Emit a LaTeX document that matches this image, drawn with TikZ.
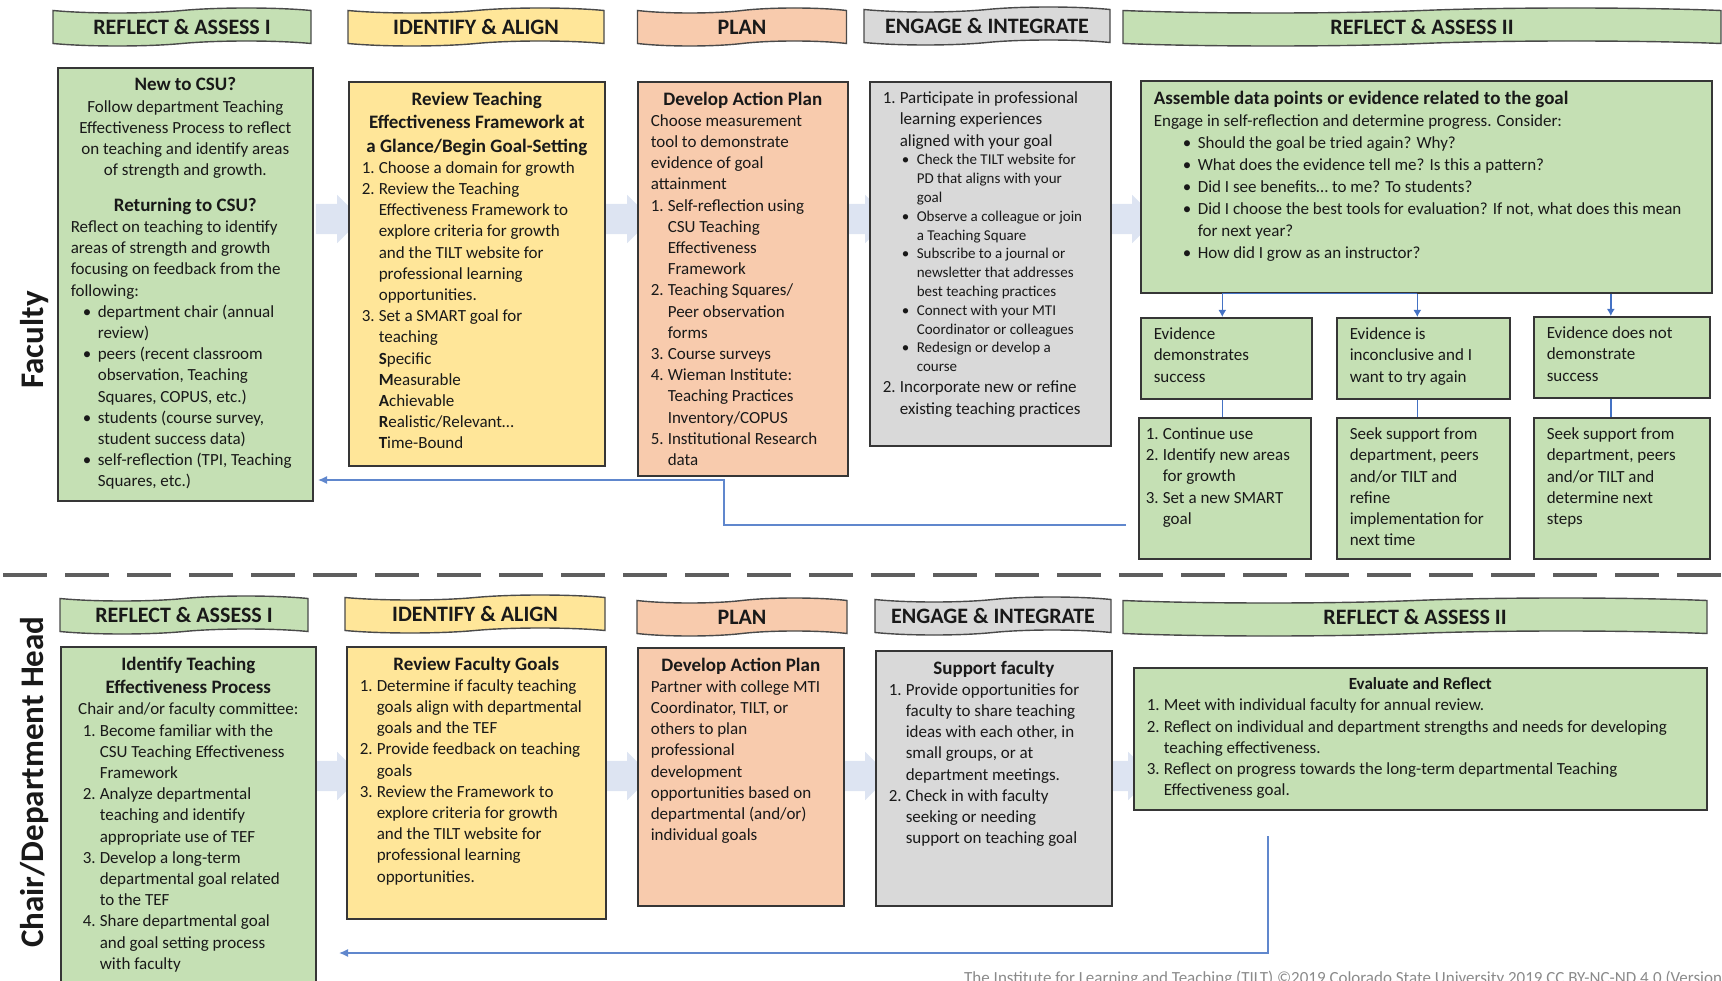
\documentclass[tikz,border=0pt]{standalone}
\usepackage{fontspec}
\setmainfont{Carlito}
\usetikzlibrary{shapes.symbols,shapes.arrows,arrows.meta}

\definecolor{sgreen}{HTML}{C5E0B4}
\definecolor{syellow}{HTML}{FFE699}
\definecolor{speach}{HTML}{F8CBAD}
\definecolor{sgray}{HTML}{D9D9D9}
\definecolor{edge}{HTML}{363636}
\definecolor{linkblue}{HTML}{4472C4}
\definecolor{chevfill}{HTML}{DDE4F2}
\definecolor{dashgray}{HTML}{5E5E5E}
\definecolor{footgray}{HTML}{8A8A8A}

% text block of a card: width, height, body
\newcommand{\cardtext}[3]{\parbox[c][#2][t]{#1}{\raggedright\parindent=0pt\parskip=0pt\fontsize{17}{21.2}\selectfont #3}}
\newcommand{\head}[1]{{\centering\fontsize{19}{23.5}\selectfont\bfseries #1\par}}
\newcommand{\nitem}[3][0pt]{\par\hangindent=\dimexpr#1+17pt\relax\hangafter=1\hspace*{#1}\makebox[17pt][l]{#2}#3\par}
\newcommand{\bitem}[2][12pt]{\par\hangindent=\dimexpr#1+15pt\relax\hangafter=1\hspace*{#1}\makebox[15pt][l]{\textbullet}#2\par}

\tikzset{
  card/.style={draw=edge, line width=1.6pt, anchor=north west, inner xsep=13pt, inner ysep=10pt, text=black!90},
  phase/.style={tape, draw=edge!90, line width=1.4pt, tape bend height=5pt, minimum height=38pt, inner sep=0pt,
    font=\fontsize{22}{22}\selectfont\bfseries, text=black!90},
  chev/.style={single arrow, fill=chevfill, draw=none, minimum height=38pt, minimum width=48pt,
    single arrow head extend=9pt, inner sep=15pt},
  link/.style={draw=linkblue, line width=1.6pt},
  back/.style={draw=linkblue!85, line width=1.4pt, -{Latex[length=9pt,width=8pt]}},
  lane/.style={rotate=90, font=\fontsize{33}{33}\selectfont\bfseries, text=black!90},
}

\begin{document}
\begin{tikzpicture}[x=1pt, y=-1pt]
\useasboundingbox (0,0) rectangle (1722,981);
\clip (0,0) rectangle (1722,981);

% lanes
\node[lane] (faclabel) at (35,340) {Faculty};
\node[lane] (chairlabel) at (35,782) {Chair/Department Head};

% flow chevrons behind the cards
\foreach \cx/\cy [count=\i] in {331/219, 621/219, 859/219, 1126/219, 331/776, 621/776, 859/776, 1122/776}
  \node[chev] (chev\i) at (\cx,\cy) {};

% phase headers, faculty
\node[phase, fill=sgreen, minimum width=258pt] (fh1) at (182,27) {REFLECT \& ASSESS I};
\node[phase, fill=syellow, minimum width=256pt] (fh2) at (476,27) {IDENTIFY \& ALIGN};
\node[phase, fill=speach, minimum width=209pt] (fh3) at (742,27) {PLAN};
\node[phase, fill=sgray, minimum width=246pt] (fh4) at (987,26) {ENGAGE \& INTEGRATE};
\node[phase, fill=sgreen, minimum width=598pt] (fh5) at (1422,27) {REFLECT \& ASSESS II};

% faculty cards
\node[card, fill=sgreen] (fr1) at (57,67) {\cardtext{229pt}{413pt}{%
  \head{New to CSU?}
  {\centering Follow department Teaching\\ Effectiveness Process to reflect\\ on teaching and identify areas\\ of strength and growth.\par}
  \vspace{12pt}
  \head{Returning to CSU?}
  Reflect on teaching to identify\\ areas of strength and growth\\ focusing on feedback from the\\ following:
  \bitem{department chair (annual\newline review)}
  \bitem{peers (recent classroom\newline observation, Teaching\newline Squares, COPUS, etc.)}
  \bitem{students (course survey,\newline student success data)}
  \bitem{self-reflection (TPI, Teaching\newline Squares, etc.)}}};

\node[card, fill=syellow] (fr2) at (348,81) {\cardtext{230pt}{364pt}{%
  \head{Review Teaching\\ Effectiveness Framework at\\ a Glance/Begin Goal-Setting}
  \nitem{1.}{Choose a domain for growth}
  \nitem{2.}{Review the Teaching\newline Effectiveness Framework to\newline explore criteria for growth\newline and the TILT website for\newline professional learning\newline opportunities.}
  \nitem{3.}{Set a SMART goal for\newline teaching\newline \textbf{S}pecific\newline \textbf{M}easurable\newline \textbf{A}chievable\newline \textbf{R}ealistic/Relevant…\newline \textbf{T}ime-Bound}}};

\node[card, fill=speach] (fr3) at (637,81) {\cardtext{184pt}{374pt}{%
  \head{Develop Action Plan}
  Choose measurement\\ tool to demonstrate\\ evidence of goal\\ attainment
  \nitem{1.}{Self-reflection using\newline CSU Teaching\newline Effectiveness\newline Framework}
  \nitem{2.}{Teaching Squares/\newline Peer observation\newline forms}
  \nitem{3.}{Course surveys}
  \nitem{4.}{Wieman Institute:\newline Teaching Practices\newline Inventory/COPUS}
  \nitem{5.}{Institutional Research\newline data}}};

\node[card, fill=sgray] (fr4) at (869,81) {\cardtext{215pt}{344pt}{%
  \nitem{1.}{Participate in professional\newline learning experiences\newline aligned with your goal}
  {\fontsize{15}{18.8}\selectfont
  \bitem[19pt]{Check the TILT website for\newline PD that aligns with your\newline goal}
  \bitem[19pt]{Observe a colleague or join\newline a Teaching Square}
  \bitem[19pt]{Subscribe to a journal or\newline newsletter that addresses\newline best teaching practices}
  \bitem[19pt]{Connect with your MTI\newline Coordinator or colleagues}
  \bitem[19pt]{Redesign or develop a\newline course}}
  \nitem{2.}{Incorporate new or refine\newline existing teaching practices}}};

\node[card, fill=sgreen] (fr5) at (1140,80) {\cardtext{545pt}{192pt}{%
  \fontsize{17}{22}\selectfont
  {\fontsize{19}{23.5}\selectfont\bfseries Assemble data points or evidence related to the goal\par}
  Engage in self-reflection and determine progress. Consider:
  \bitem[29pt]{Should the goal be tried again? Why?}
  \bitem[29pt]{What does the evidence tell me? Is this a pattern?}
  \bitem[29pt]{Did I see benefits… to me? To students?}
  \bitem[29pt]{Did I choose the best tools for evaluation? If not, what does this mean\newline for next year?}
  \bitem[29pt]{How did I grow as an instructor?}}};

% outcome cards
\node[card, fill=sgreen] (e1) at (1140,317) {\cardtext{145pt}{61pt}{Evidence\\ demonstrates\\ success}};
\node[card, fill=sgreen] (e2) at (1336,317) {\cardtext{147pt}{61pt}{Evidence is\\ inconclusive and I\\ want to try again}};
\node[card, fill=sgreen] (e3) at (1533,316) {\cardtext{150pt}{61pt}{Evidence does not\\ demonstrate\\ success}};

\node[card, fill=sgreen] (b1) at (1138,417) {\cardtext{146pt}{121pt}{%
  \nitem[-6pt]{1.}{Continue use}
  \nitem[-6pt]{2.}{Identify new areas\newline for growth}
  \nitem[-6pt]{3.}{Set a new SMART\newline goal}}};
\node[card, fill=sgreen] (b2) at (1336,417) {\cardtext{147pt}{121pt}{Seek support from\\ department, peers\\ and/or TILT and\\ refine\\ implementation for\\ next time}};
\node[card, fill=sgreen] (b3) at (1533,417) {\cardtext{150pt}{121pt}{Seek support from\\ department, peers\\ and/or TILT and\\ determine next\\ steps}};

% outcome links
\draw[link] ([xshift=-4pt]fr5.south -| e1.north) -- ([xshift=-6pt]fr5.south -| e2.north);
\draw[link, -{Latex[length=7pt,width=8pt]}] ([xshift=-4pt]fr5.south -| e1.north) -- ([xshift=-4pt]e1.north);
\draw[link, -{Latex[length=7pt,width=8pt]}] ([xshift=-6pt]fr5.south -| e2.north) -- ([xshift=-6pt]e2.north);
\draw[link, -{Latex[length=7pt,width=8pt]}] ([xshift=-11pt]fr5.south -| e3.north) -- ([xshift=-11pt]e3.north);
\draw[link] ([xshift=-4pt]e1.south) -- ([xshift=-4pt]e1.south |- b1.north);
\draw[link] ([xshift=-6pt]e2.south) -- ([xshift=-6pt]e2.south |- b2.north);
\draw[link] ([xshift=-11pt]e3.south) -- ([xshift=-11pt]e3.south |- b3.north);

% faculty loop back
\coordinate (fbstart) at (1126,525);
\coordinate (fbturn) at (724,525);
\coordinate (fbend) at (318,480);
\draw[back] (fbstart) -- (fbturn) |- (fbend);

% lane separator
\coordinate (sepL) at (3,575);
\coordinate (sepR) at (1722,575);
\draw[dashgray, line width=4.5pt, dash pattern=on 44pt off 18pt] (sepL) -- (sepR);

% phase headers, chair
\node[phase, fill=sgreen, minimum width=248pt] (ch1) at (184,615) {REFLECT \& ASSESS I};
\node[phase, fill=syellow, minimum width=260pt] (ch2) at (475,614) {IDENTIFY \& ALIGN};
\node[phase, fill=speach, minimum width=210pt] (ch3) at (742,617) {PLAN};
\node[phase, fill=sgray, minimum width=236pt] (ch4) at (993,616) {ENGAGE \& INTEGRATE};
\node[phase, fill=sgreen, minimum width=584pt] (ch5) at (1415,617) {REFLECT \& ASSESS II};

% chair cards
\node[card, fill=sgreen] (cr1) at (60,646) {\cardtext{229pt}{322pt}{%
  \head{Identify Teaching\\ Effectiveness Process}
  {\centering Chair and/or faculty committee:\par}
  \nitem[9pt]{1.}{Become familiar with the\newline CSU Teaching Effectiveness\newline Framework}
  \nitem[9pt]{2.}{Analyze departmental\newline teaching and identify\newline appropriate use of TEF}
  \nitem[9pt]{3.}{Develop a long-term\newline departmental goal related\newline to the TEF}
  \nitem[9pt]{4.}{Share departmental goal\newline and goal setting process\newline with faculty}}};

\node[card, fill=syellow] (cr2) at (346,646) {\cardtext{233pt}{252pt}{%
  \head{Review Faculty Goals}
  \nitem{1.}{Determine if faculty teaching\newline goals align with departmental\newline goals and the TEF}
  \nitem{2.}{Provide feedback on teaching\newline goals}
  \nitem{3.}{Review the Framework to\newline explore criteria for growth\newline and the TILT website for\newline professional learning\newline opportunities.}}};

\node[card, fill=speach] (cr3) at (637,647) {\cardtext{180pt}{238pt}{%
  \head{Develop Action Plan}
  Partner with college MTI\\ Coordinator, TILT, or\\ others to plan\\ professional\\ development\\ opportunities based on\\ departmental (and/or)\\ individual goals}};

\node[card, fill=sgray] (cr4) at (875,650) {\cardtext{210pt}{235pt}{%
  \head{Support faculty}
  \nitem{1.}{Provide opportunities for\newline faculty to share teaching\newline ideas with each other, in\newline small groups, or at\newline department meetings.}
  \nitem{2.}{Check in with faculty\newline seeking or needing\newline support on teaching goal}}};

\node[card, fill=sgreen] (cr5) at (1133,667) {\cardtext{547pt}{122pt}{%
  {\centering\bfseries Evaluate and Reflect\par}
  \nitem{1.}{Meet with individual faculty for annual review.}
  \nitem{2.}{Reflect on individual and department strengths and needs for developing\newline teaching effectiveness.}
  \nitem{3.}{Reflect on progress towards the long-term departmental Teaching\newline Effectiveness goal.}}};

% chair loop back
\coordinate (cbstart) at (1268,836);
\coordinate (cbend) at (339,953);
\draw[back] (cbstart) |- (cbend);

% credit line
\node[anchor=base west, inner sep=0pt, font=\fontsize{17}{17}\selectfont, text=footgray] (credit) at (964,983)
  {The Institute for Learning and Teaching (TILT) ©2019 Colorado State University 2019 CC BY-NC-ND 4.0 (Version};
\end{tikzpicture}
\end{document}
